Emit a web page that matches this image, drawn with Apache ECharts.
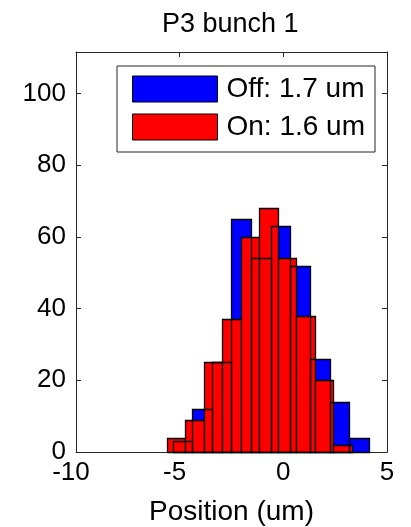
<!DOCTYPE html>
<html>
<head>
<meta charset="utf-8">
<script src="https://cdn.jsdelivr.net/npm/echarts@6/dist/echarts.min.js"></script>
<style>
html,body{margin:0;padding:0;background:#fff;}
#chart{width:411px;height:527px;}
</style>
</head>
<body>
<div id="chart"></div>
<script>
// ---- data ----
var titleText = 'P3 bunch 1';
var xAxisName = 'Position (um)';
var offName = 'Off: 1.7 um';
var onName = 'On: 1.6 um';
// bin edges (um) and counts
var offEdges = [-5.34, -4.394, -3.448, -2.502, -1.556, -0.61, 0.336, 1.282, 2.228, 3.174, 4.12];
var offCounts = [3, 12, 25, 65, 54, 63, 52, 26, 14, 4];
var onEdges = [-5.61, -4.72, -3.83, -2.94, -2.05, -1.16, -0.27, 0.62, 1.51, 2.40, 3.29];
var onCounts = [4, 9, 25, 37, 60, 68, 54, 38, 20, 2];
var xTicks = [-10, -5, 0, 5];
var yTicks = [0, 20, 40, 60, 80, 100];

function binData(edges, counts) {
  var out = [];
  for (var i = 0; i < counts.length; i++) out.push([edges[i], edges[i + 1], counts[i]]);
  return out;
}

function makeRender(fill, stroke) {
  return function (params, api) {
    var p0 = api.coord([api.value(0), 0]);
    var p1 = api.coord([api.value(1), api.value(2)]);
    var x0 = Math.round(p0[0]) + 0.5, x1 = Math.round(p1[0]) + 0.5;
    var y0 = Math.round(p0[1]) + 0.5, y1 = Math.round(p1[1]) + 0.5;
    return {
      type: 'rect',
      shape: { x: x0, y: y1, width: x1 - x0, height: y0 - y1 },
      style: { fill: fill, stroke: stroke, lineWidth: stroke === 'none' ? 0 : 1.3 }
    };
  };
}

var FONT = 'Liberation Sans, Arial, Helvetica, sans-serif';
var AX = '#262626';
var chart = echarts.init(document.getElementById('chart'), null, { renderer: 'canvas' });

function labelFmt(list) {
  return function (v) {
    var r = Math.round(v * 1000) / 1000;
    if (list.indexOf(r) < 0) return '';
    return r < 0 ? '{neg|' + r + '}' : String(r);
  };
}

var option = {
  animation: false,
  backgroundColor: '#ffffff',
  title: {
    text: titleText,
    left: 157,
    top: 6,
    textStyle: { fontFamily: FONT, fontSize: 27, fontWeight: 'normal', color: '#000' }
  },
  legend: {
    orient: 'vertical',
    left: 117,
    top: 66,
    padding: [9, 10, 11, 15],
    itemWidth: 85,
    itemHeight: 26,
    itemGap: 10,
    borderColor: AX,
    borderWidth: 1,
    backgroundColor: '#fff',
    selectedMode: false,
    textStyle: { fontFamily: FONT, fontSize: 28, color: '#000', padding: [0, 0, 0, 4] },
    data: [
      { name: offName, icon: 'rect', itemStyle: { color: '#0000ff', borderColor: '#000', borderWidth: 1 } },
      { name: onName, icon: 'rect', itemStyle: { color: '#ff0000', borderColor: '#000', borderWidth: 1 } }
    ]
  },
  grid: { left: 76, right: 24, top: 52, bottom: 75, show: false, containLabel: false, outerBoundsMode: 'none' },
  xAxis: [
    {
      type: 'value', min: -10, max: 5, interval: 5, position: 'bottom',
      axisLine: { show: true, onZero: false, lineStyle: { color: AX, width: 1 } },
      axisTick: { show: true, inside: true, length: 5, lineStyle: { color: AX } },
      axisLabel: {
        show: true, margin: 8, fontFamily: FONT, fontSize: 26, color: '#000', formatter: labelFmt(xTicks),
        rich: { neg: { fontFamily: FONT, fontSize: 26, color: '#000', padding: [0, 10, 0, 0] } }
      },
      splitLine: { show: false },
      name: xAxisName, nameLocation: 'middle', nameGap: 46,
      nameTextStyle: { fontFamily: FONT, fontSize: 28, color: '#000' }
    },
    {
      type: 'value', min: -10, max: 5, interval: 5, position: 'top',
      axisLine: { show: true, onZero: false, lineStyle: { color: AX, width: 1 } },
      axisTick: { show: true, inside: true, length: 5, lineStyle: { color: AX } },
      axisLabel: { show: false }, splitLine: { show: false }
    }
  ],
  yAxis: [
    {
      type: 'value', min: 0, max: 111.6, interval: 20, position: 'left',
      axisLine: { show: true, onZero: false, lineStyle: { color: AX, width: 1 } },
      axisTick: { show: true, inside: true, length: 5, lineStyle: { color: AX } },
      axisLabel: { show: true, margin: 10, fontFamily: FONT, fontSize: 26, color: '#000', formatter: labelFmt(yTicks), showMaxLabel: false },
      splitLine: { show: false }
    },
    {
      type: 'value', min: 0, max: 111.6, interval: 20, position: 'right',
      axisLine: { show: true, onZero: false, lineStyle: { color: AX, width: 1 } },
      axisTick: { show: true, inside: true, length: 5, lineStyle: { color: AX } },
      axisLabel: { show: false }, splitLine: { show: false }
    }
  ],
  series: [
    {
      name: offName, type: 'custom', xAxisIndex: 0, yAxisIndex: 0,
      renderItem: makeRender('#0000ff', 'none'),
      encode: { x: [0, 1], y: 2 },
      itemStyle: { color: '#0000ff' },
      data: binData(offEdges, offCounts), z: 2
    },
    {
      name: onName, type: 'custom', xAxisIndex: 0, yAxisIndex: 0,
      renderItem: makeRender('#ff0000', '#000'),
      encode: { x: [0, 1], y: 2 },
      itemStyle: { color: '#ff0000' },
      data: binData(onEdges, onCounts), z: 2
    },
    {
      name: offName + ' edges', type: 'custom', xAxisIndex: 0, yAxisIndex: 0,
      renderItem: makeRender('none', '#000'),
      encode: { x: [0, 1], y: 2 },
      data: binData(offEdges, offCounts), z: 2, silent: true
    }
  ]
};
chart.setOption(option);
</script>
</body>
</html>
